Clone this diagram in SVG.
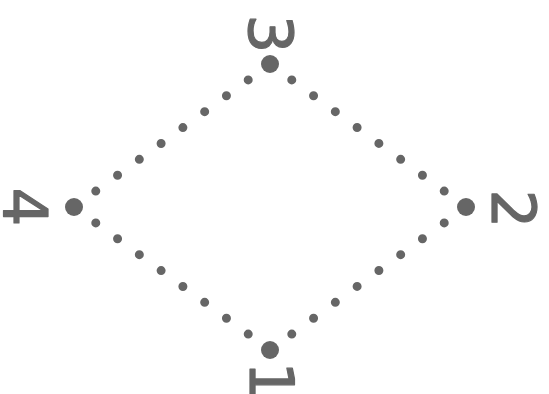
<svg xmlns="http://www.w3.org/2000/svg" width="549" height="394" viewBox="0 0 549 394">
<style>
.lbl{font-family:"DejaVu Sans",sans-serif;font-size:61px;fill:#666;stroke:#666;stroke-width:1.2;stroke-linejoin:round;text-anchor:middle}
.node{fill:#666}
.edge{stroke:#666;stroke-width:9;stroke-linecap:round;fill:none}
</style>
<rect width="549" height="394" fill="#fff"/>
<g id="connectors">
<line class="edge" x1="270" y1="64" x2="466" y2="207" stroke-dasharray="0 26.956"/>
<line class="edge" x1="466" y1="207" x2="270" y2="350" stroke-dasharray="0 26.956"/>
<line class="edge" x1="270" y1="350" x2="74" y2="207" stroke-dasharray="0 26.956"/>
<line class="edge" x1="74" y1="207" x2="270" y2="64" stroke-dasharray="0 26.956"/>
</g>
<g id="n3"><circle class="node" cx="270" cy="64" r="9"/><text class="lbl" transform="translate(271,34) rotate(90)" x="0" y="22.2">3</text></g>
<g id="n2"><circle class="node" cx="466" cy="207" r="9"/><text class="lbl" transform="translate(514,209) rotate(90)" x="0" y="22.2">2</text></g>
<g id="n1"><circle class="node" cx="270" cy="350" r="9"/><text class="lbl" transform="translate(272,381) rotate(90)" x="0" y="22.2">1</text></g>
<g id="n4"><circle class="node" cx="74" cy="207" r="9"/><text class="lbl" transform="translate(26,207) rotate(90)" x="0" y="22.2">4</text></g>
</svg>
